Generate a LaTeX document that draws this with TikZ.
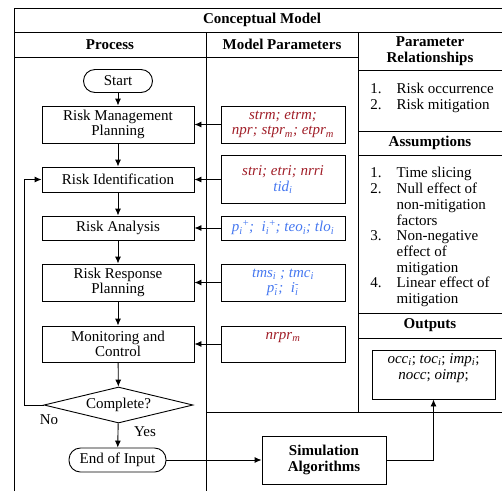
\documentclass[tikz,border=0pt]{standalone}
\usepackage{fontspec}
\setmainfont{Liberation Serif}
\usetikzlibrary{arrows.meta,shapes.geometric}

\definecolor{parred}{RGB}{160,30,40}
\definecolor{parblue}{RGB}{70,120,240}
% italic symbol with subscript, and with stacked sub/superscript
\newcommand{\isub}[2]{\textit{#1}\textsubscript{\textit{#2}}}
\newcommand{\isubsup}[3]{\textit{#1}\rlap{\textsubscript{\textit{#2}}}\textsuperscript{#3}}

\begin{document}
\fontsize{15}{15.7}\selectfont
\begin{tikzpicture}[x=1pt, y=-1pt, line width=0.9pt, >={Latex[length=7pt,width=6pt]},
    proc/.style={draw, minimum width=152pt, inner sep=0pt, align=center},
    param/.style={draw, minimum width=124pt, inner sep=0pt, align=center},
    term/.style={draw, rounded corners=11.5pt, inner sep=0pt, minimum height=24pt},
    head/.style={font=\bfseries, align=center}]

    \useasboundingbox (0,0) rectangle (502,491);

    % Frame and columns
    \draw (14.5,491) -- (14.5,8) -- (502,8);
    \draw (14.5,32) -- (502,32);
    \draw (14.5,57) -- (358,57);
    \draw (206,32) -- (206,491);
    \draw (358,32) -- (358,412);
    \draw (206,412) -- (502,412);
    \draw (358,70) -- (502,70);
    \draw (358,131) -- (502,131);
    \draw (358,155) -- (502,155);
    \draw (358,313) -- (502,313);
    \draw (358,338) -- (502,338);

    % Headings
    \node[head] (title) at (262,20) {Conceptual Model};
    \node[head] (prochead) at (110,44.5) {Process};
    \node[head] (parhead) at (282,44.5) {Model Parameters};
    \node[head] (relhead) at (430,51) {Parameter\\Relationships};
    \node[head] (asshead) at (430,143) {Assumptions};
    \node[head] (outhead) at (430,325.5) {Outputs};

    % Process flow
    \node[term, minimum width=69pt, minimum height=23pt] (start) at (118,81) {Start};
    \node[proc, minimum height=37pt] (rmp) at (118,124.5) {Risk Management\\Planning};
    \node[proc, minimum height=25pt] (ri) at (118,179.5) {Risk Identification};
    \node[proc, minimum height=24pt] (ra) at (118,228) {Risk Analysis};
    \node[proc, minimum height=37pt] (rrp) at (118,282.5) {Risk Response\\Planning};
    \node[proc, minimum height=36pt] (mc) at (118,344) {Monitoring and\\Control};
    \node[draw, diamond, shape aspect=4, inner sep=0pt, minimum width=149pt, minimum height=36pt] (done) at (118.5,405) {Complete?};
    \node[term, minimum width=97pt] (end) at (117.5,460) {End of Input};
    \node (no) at (49,420) {No};
    \node (yes) at (145,432) {Yes};
    \coordinate (back) at (24,405);

    % Model parameters
    \node[param, minimum height=37pt, text=parred] (p1) at (283,124.5) {\textit{strm; etrm;}\\\textit{npr; }\isub{stpr}{m}\textit{; }\isub{etpr}{m}};
    \node[param, minimum height=48pt] (p2) at (283,179.5) {\textcolor{parred}{\textit{stri; etri; nrri}}\\\textcolor{parblue}{\isub{tid}{i}}};
    \node[param, minimum height=24pt, text=parblue] (p3) at (283,228) {\isub{p}{i}\textsuperscript{+}\textit{;\ \ }\isub{i}{i}\textsuperscript{+}\textit{; }\isub{teo}{i}\textit{; }\isub{tlo}{i}};
    \node[param, minimum height=37pt, text=parblue] (p4) at (283,282.5) {\isub{tms}{i}\textit{ ; }\isub{tmc}{i}\\\isubsup{p}{i}{-}\textit{;\ \ }\isubsup{i}{i}{-}};
    \node[param, minimum height=36pt, text=parred] (p5) at (283,344) {\isub{nrpr}{m}\\\mbox{}};

    % Relationships and assumptions
    \node[anchor=north west, inner sep=0pt] (rels) at (370,82.5) {\begin{tabular}{@{}l@{\hspace{15pt}}l@{}}
        1. & Risk occurrence\\
        2. & Risk mitigation
    \end{tabular}};
    \node[anchor=north west, inner sep=0pt] (assums) at (370,166.5) {\begin{tabular}{@{}l@{\hspace{15pt}}l@{}}
        1. & Time slicing\\
        2. & Null effect of\\
           & non-mitigation\\
           & factors\\
        3. & Non-negative\\
           & effect of\\
           & mitigation\\
        4. & Linear effect of\\
           & mitigation
    \end{tabular}};

    % Outputs and simulation
    \node[draw, minimum width=123pt, minimum height=49pt, inner sep=0pt, align=center] (outbox) at (433.5,374.5) {\isub{occ}{i}; \isub{toc}{i}; \isub{imp}{i};\\\textit{nocc}; \textit{oimp};\\\mbox{}};
    \node[head, draw, minimum width=124pt, minimum height=48pt, inner sep=0pt] (sim) at (324,460) {Simulation\\Algorithms};

    % Flow connections
    \draw[->] (start) -- (rmp);
    \draw[->] (rmp) -- (ri);
    \draw[->] (ri) -- (ra);
    \draw[->] (ra) -- (rrp);
    \draw[->] (rrp) -- (mc);
    \draw[->] (mc) -- (done);
    \draw[->] (done) -- (end);
    \draw[->] (done.west) -- (back) |- (ri.west);

    % Parameters into the process
    \draw[->] (p1) -- (rmp);
    \draw[->] (p2) -- (ri);
    \draw[->] (p3) -- (ra);
    \draw[->] (p4) -- (rrp);
    \draw[->] (p5) -- (mc);

    % Simulation
    \draw[->] (end) -- (sim);
    \draw[->] (sim) -| (outbox);

\end{tikzpicture}
\end{document}
